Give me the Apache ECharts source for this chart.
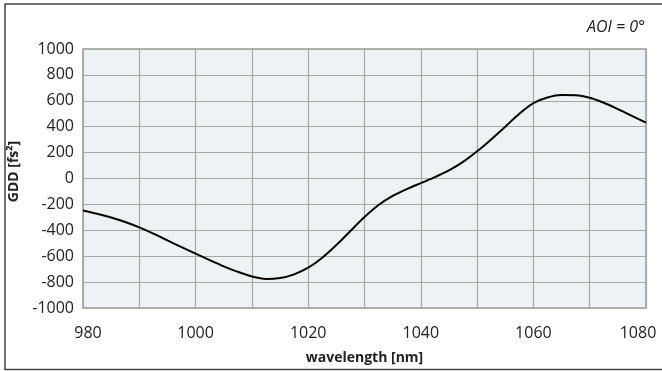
<!DOCTYPE html>
<html>
<head>
    <meta charset="UTF-8">
    <title>GDD</title>
    <script type="text/javascript" src="https://cdn.jsdelivr.net/npm/echarts@6/dist/echarts.min.js"></script>
    <style type="text/css">
        html, body { margin: 0; padding: 0; background: #fff; }
        #chart { width: 662px; height: 371px; }
    </style>
</head>
<body>
<div id="chart"></div>
<script type="text/javascript">
    // wavelength [nm]
    var wavelength = [980, 982.5, 985, 987.5, 990, 992.5, 995, 997.5, 1000, 1002.5, 1005, 1007.5,
        1010, 1012.5, 1015, 1017.5, 1020, 1022.5, 1025, 1027.5, 1030, 1032.5, 1035, 1037.5,
        1040, 1042.5, 1045, 1047.5, 1050, 1052.5, 1055, 1057.5, 1060, 1062.5, 1065, 1067.5,
        1070, 1072.5, 1075, 1077.5, 1080];
    // GDD [fs²]
    var gdd = [-247, -272, -301, -336, -378, -426, -478, -530, -580, -630, -678, -721,
        -757, -776, -769, -740, -689, -612, -514, -405, -298, -205, -135, -82,
        -36, 10, 62, 128, 210, 302, 400, 500, 582, 625, 644, 643,
        624, 585, 536, 484, 431];
    var xTicks = [980, 1000, 1020, 1040, 1060, 1080];
    var yTicks = [-1000, -800, -600, -400, -200, 0, 200, 400, 600, 800, 1000];

    var font = '"Open Sans", "Noto Sans", sans-serif';
    var chart = echarts.init(document.getElementById('chart'));
    chart.setOption({
        animation: false,
        textStyle: {fontFamily: font},
        graphic: [
            {
                type: 'rect',
                shape: {x: 5, y: 4, width: 680, height: 365.5},
                style: {fill: 'none', stroke: '#444', lineWidth: 1.5}
            },
            {
                type: 'text', right: 17, top: 19,
                style: {text: 'AOI = 0°', font: 'italic 16px ' + font, fill: '#222'}
            }
        ],
        grid: {
            left: 83, right: 16, top: 49, bottom: 63,
            outerBoundsMode: 'none',
            show: true, backgroundColor: '#edf2f4',
            borderColor: '#9a9a9a', borderWidth: 1.5
        },
        xAxis: {
            type: 'value', min: 980, max: 1080, interval: 10,
            name: 'wavelength [nm]', nameLocation: 'middle', nameGap: 43,
            nameTextStyle: {fontSize: 14, fontWeight: 'bold', color: '#222'},
            axisLine: {show: false}, axisTick: {show: false},
            axisLabel: {
                fontSize: 16, color: '#222', margin: 17,
                formatter: function (v) {
                    if (xTicks.indexOf(v) < 0) return '';
                    // end labels are pulled inside the frame
                    if (v === xTicks[0]) return '{first|' + v + '}';
                    if (v === xTicks[xTicks.length - 1]) return '{last|' + v + '}';
                    return String(v);
                },
                rich: {
                    first: {fontSize: 16, color: '#222', padding: [0, 0, 0, 10]},
                    last: {fontSize: 16, color: '#222', padding: [0, 16, 0, 0]}
                }
            },
            splitLine: {lineStyle: {color: '#a8a8a8', width: 1.2}}
        },
        yAxis: {
            type: 'value', min: -1000, max: 1000, interval: 200,
            name: 'GDD [fs²]', nameLocation: 'middle', nameGap: 62, nameRotate: 90,
            nameTextStyle: {fontSize: 14, fontWeight: 'bold', color: '#222', padding: [0, 0, 0, 14]},
            axisLine: {show: false}, axisTick: {show: false},
            axisLabel: {
                fontSize: 16, color: '#222', margin: 9,
                formatter: function (v) { return yTicks.indexOf(v) >= 0 ? String(v) : ''; }
            },
            splitLine: {lineStyle: {color: '#a8a8a8', width: 1.2}}
        },
        series: [
            {
                type: 'line',
                data: wavelength.map(function (w, i) { return [w, gdd[i]]; }),
                smooth: 0.3,
                showSymbol: false,
                lineStyle: {color: '#000', width: 2}
            }
        ]
    });
</script>
</body>
</html>
